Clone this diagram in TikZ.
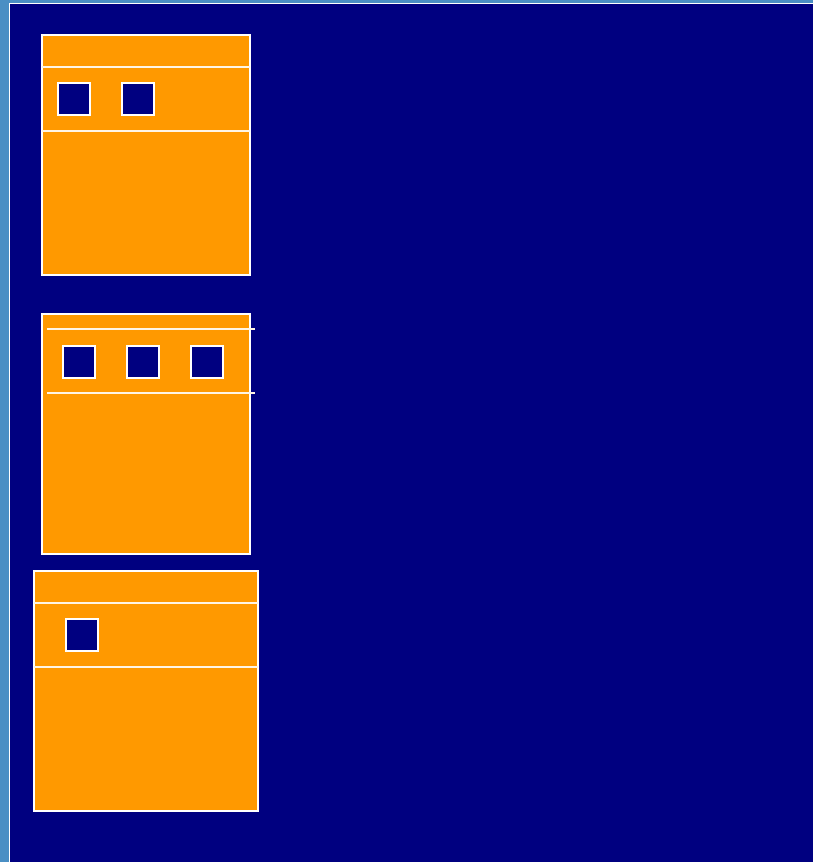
\documentclass[tikz,border=0pt]{standalone}
\usepackage{xcolor}
\definecolor{frameblue}{HTML}{4A8FC4}
\definecolor{deepnavy}{HTML}{000080}
\definecolor{panelorange}{HTML}{FF9900}

\tikzset{
  panel/.style={fill=panelorange, draw=white, line width=2pt},
  divider/.style={draw=white!90!panelorange, line width=2pt},
  slot/.style={fill=deepnavy, draw=white, line width=2pt}
}

\begin{document}
\begin{tikzpicture}[x=1pt, y=-1pt]
  \useasboundingbox (0,0) rectangle (813,862);
  \fill[frameblue] (0,0) rectangle (813,862);
  \filldraw[fill=deepnavy, draw=white, line width=1pt] (9.5,3.5) rectangle (820,870);

  % first panel
  \path[panel] (42,35) rectangle (250,275);
  \draw[divider] (42,67) -- (250,67);
  \draw[divider] (42,131) -- (250,131);
  \foreach \x in {58,122}
    \path[slot] (\x,83) rectangle ++(32,32);

  % second panel
  \path[panel] (42,314) rectangle (250,554);
  \draw[divider] (47,329) -- (255,329);
  \draw[divider] (47,393) -- (255,393);
  \foreach \x in {63,127,191}
    \path[slot] (\x,346) rectangle ++(32,32);

  % third panel
  \path[panel] (34,571) rectangle (258,811);
  \draw[divider] (34,603) -- (258,603);
  \draw[divider] (34,667) -- (258,667);
  \path[slot] (66,619) rectangle ++(32,32);
\end{tikzpicture}
\end{document}
